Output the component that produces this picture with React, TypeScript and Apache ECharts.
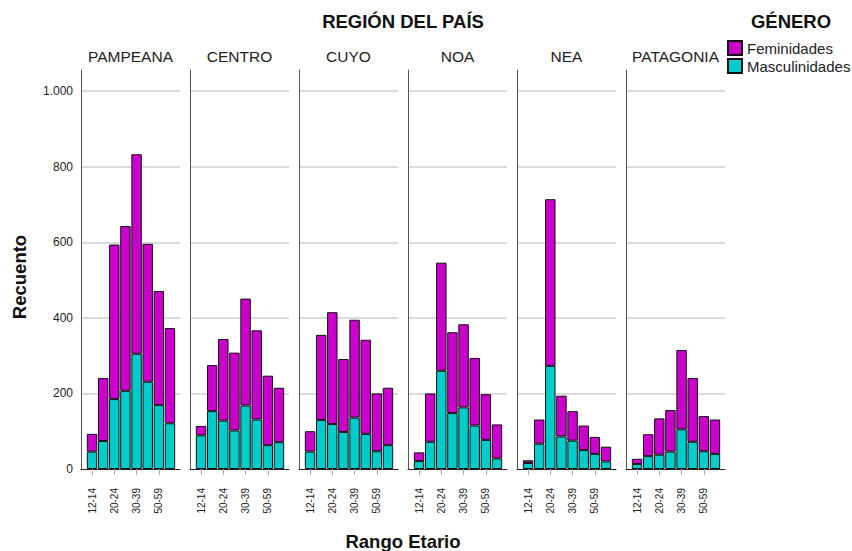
import React, { useEffect, useRef } from "react";
import * as echarts from "echarts";

const categories = ["12-14", "15-19", "20-24", "25-29", "30-39", "40-49", "50-59", "60+"];
const regions = ["PAMPEANA", "CENTRO", "CUYO", "NOA", "NEA", "PATAGONIA"];

const mascPampeana = [46, 74, 185, 207, 305, 231, 169, 121];
const femPampeana = [47, 167, 409, 436, 528, 365, 302, 252];
const mascCentro = [89, 153, 128, 102, 168, 131, 63, 71];
const femCentro = [25, 122, 216, 206, 283, 236, 184, 144];
const mascCuyo = [46, 130, 119, 98, 136, 93, 47, 63];
const femCuyo = [54, 225, 296, 193, 259, 249, 153, 152];
const mascNoa = [21, 72, 260, 148, 163, 115, 77, 28];
const femNoa = [23, 128, 286, 214, 220, 179, 121, 90];
const mascNea = [16, 67, 273, 86, 75, 50, 40, 20];
const femNea = [7, 64, 441, 108, 78, 65, 45, 39];
const mascPatagonia = [13, 34, 38, 46, 105, 72, 47, 40];
const femPatagonia = [14, 58, 96, 110, 210, 169, 93, 91];

const yTicks = [0, 200, 400, 600, 800, 1000];

const masc = [mascPampeana, mascCentro, mascCuyo, mascNoa, mascNea, mascPatagonia];
const fem = [femPampeana, femCentro, femCuyo, femNoa, femNea, femPatagonia];

const FONT = "'Liberation Sans', Arial, sans-serif";
const FEM_COLOR = "#cc00cc";
const MASC_COLOR = "#00cccc";

export default function App() {
  const ref = useRef<HTMLDivElement>(null);

  useEffect(() => {
    document.body.style.margin = "0";
    if (!ref.current) return;
    const chart = echarts.init(ref.current, undefined, { renderer: "svg" });

    const X0 = 81;
    const STEP = 109;
    const PW = 99;
    const TOP = 70;
    const H = 399;
    const YMAX = 1056;

    const grids: any[] = [];
    const xAxes: any[] = [];
    const yAxes: any[] = [];
    const series: any[] = [];
    const graphics: any[] = [];

    regions.forEach((name, i) => {
      const left = X0 + i * STEP;
      grids.push({ left, top: TOP, width: PW, height: H });
      xAxes.push({
        gridIndex: 2 * i,
        type: "value",
        min: 0,
        max: 1,
        axisLine: { show: true, lineStyle: { color: "#222", width: 1 } },
        axisTick: { show: false },
        axisLabel: { show: false },
        splitLine: { show: false },
      });
      yAxes.push({
        gridIndex: 2 * i,
        type: "value",
        min: 0,
        max: YMAX,
        interval: 200,
        axisLine: { show: true, lineStyle: { color: "#555", width: 1 } },
        axisTick: { show: false },
        axisLabel: {
          show: i === 0,
          showMaxLabel: false,
          fontFamily: FONT,
          fontSize: 12,
          color: "#222",
          margin: 8,
          formatter: (v: number) =>
            yTicks.includes(v) ? (v >= 1000 ? v.toLocaleString("de-DE") : String(v)) : "",
        },
        splitLine: {
          show: true,
          showMinLine: false,
          showMaxLine: false,
          lineStyle: { color: "#cfcfcf", width: 1.5 },
        },
      });
      grids.push({ left: left + 5.5, top: TOP, width: 89, height: H });
      xAxes.push({
        gridIndex: 2 * i + 1,
        type: "category",
        data: categories,
        axisLine: { show: false },
        axisTick: {
          show: true,
          interval: 1,
          alignWithLabel: true,
          length: 6,
          lineStyle: { color: "#aaa", width: 1 },
        },
        axisLabel: {
          interval: 1,
          rotate: 90,
          fontFamily: FONT,
          fontSize: 10,
          color: "#222",
          margin: 19,
        },
      });
      yAxes.push({
        gridIndex: 2 * i + 1,
        type: "value",
        min: 0,
        max: YMAX,
        show: false,
        splitLine: { show: false },
      });
      series.push({
        name: "Masculinidades",
        type: "bar",
        xAxisIndex: 2 * i + 1,
        yAxisIndex: 2 * i + 1,
        stack: "r" + i,
        barCategoryGap: "6%",
        data: masc[i],
        itemStyle: { color: MASC_COLOR, borderColor: "#111", borderWidth: 1 },
      });
      series.push({
        name: "Feminidades",
        type: "bar",
        xAxisIndex: 2 * i + 1,
        yAxisIndex: 2 * i + 1,
        stack: "r" + i,
        barCategoryGap: "6%",
        data: fem[i],
        itemStyle: { color: FEM_COLOR, borderColor: "#111", borderWidth: 1 },
      });
      graphics.push({
        type: "text",
        x: left + PW / 2,
        y: 56,
        style: {
          text: name,
          fontFamily: FONT,
          fontSize: 15.5,
          fill: "#222",
          align: "center",
          verticalAlign: "middle",
        },
      });
    });

    const boldText = (text: string, x: number, y: number, rotation = 0) => ({
      type: "text",
      x,
      y,
      rotation,
      style: {
        text,
        fontFamily: FONT,
        fontSize: 18.5,
        fontWeight: "bold",
        fill: "#111",
        align: "center",
        verticalAlign: "middle",
      },
    });

    graphics.push(
      boldText("REGIÓN DEL PAÍS", 403, 21),
      boldText("GÉNERO", 791, 21),
      boldText("Recuento", 19, 277, Math.PI / 2),
      boldText("Rango Etario", 403, 541)
    );

    chart.setOption({
      animation: false,
      backgroundColor: "#ffffff",
      grid: grids,
      xAxis: xAxes,
      yAxis: yAxes,
      series,
      legend: {
        data: ["Feminidades", "Masculinidades"],
        orient: "vertical",
        left: 727,
        top: 40,
        padding: 0,
        itemWidth: 14,
        itemHeight: 14,
        itemGap: 2,
        icon: "rect",
        textStyle: { fontFamily: FONT, fontSize: 15, color: "#222", lineHeight: 16 },
      },
      graphic: graphics,
    });

    return () => chart.dispose();
  }, []);

  return <div ref={ref} style={{ width: 852, height: 551 }} />;
}
